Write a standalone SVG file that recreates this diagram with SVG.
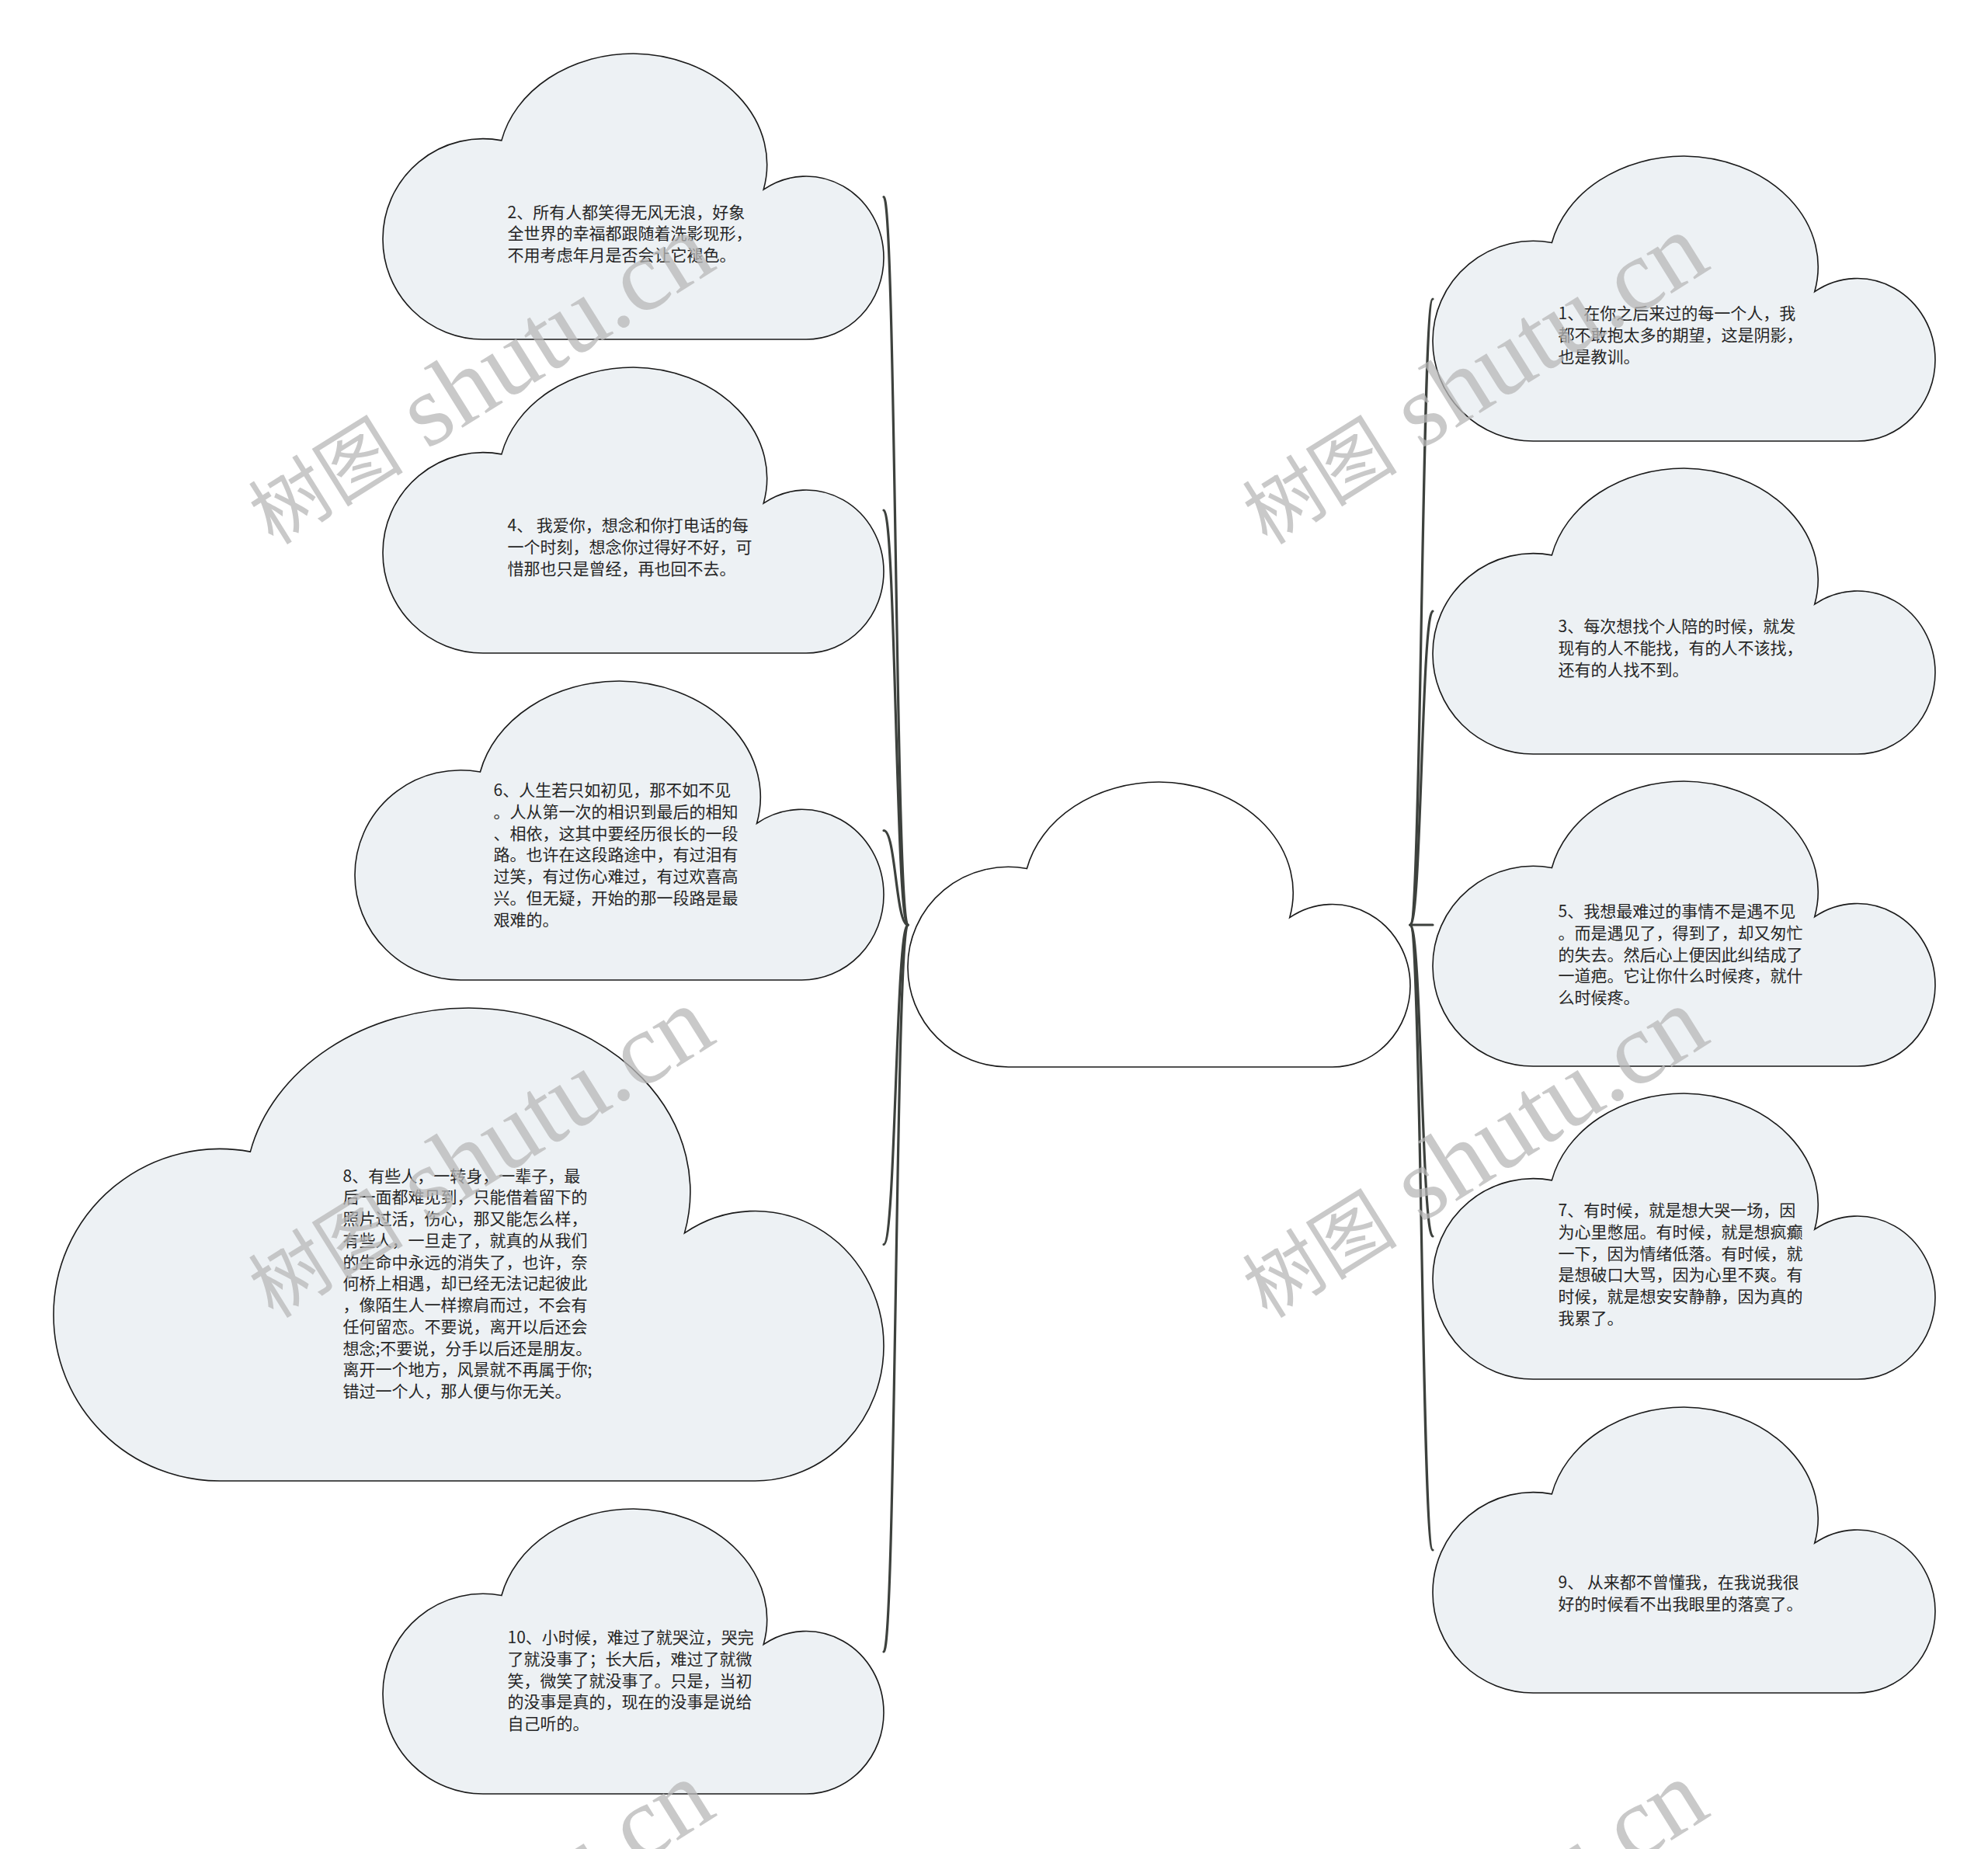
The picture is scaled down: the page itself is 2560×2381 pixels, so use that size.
<svg xmlns="http://www.w3.org/2000/svg" xmlns:xlink="http://www.w3.org/1999/xlink" width="2560" height="2381" viewBox="0 0 2560 2381">
<style>
.cloud{fill:#edf1f4;stroke:#1a1a1a;stroke-width:1.6}
.cloud-main{fill:#ffffff;stroke:#1a1a1a;stroke-width:1.6}
.conn{fill:none;stroke:#3d413d;stroke-width:3.2;stroke-linecap:round}
.txt{font-family:"Noto Sans CJK SC","Noto Sans",sans-serif;font-size:21px;fill:#262626}
.wm{font-family:"Liberation Serif","Noto Sans CJK SC",serif;fill:#b8b8b8;opacity:0.75}
.wm-cjk{font-size:100px}
.wm-lat{font-size:132px}
</style>
<defs>
<path id="cloud" vector-effect="non-scaling-stroke" d="M200,1000 A200,350 0 0 1 0,650 A200,350 0 0 1 237,304 A270,388.5 0 0 1 500,0 A270,388.5 0 0 1 760,476 A155,285 0 0 1 1000,715 A155,285 0 0 1 845,1000 Z"/>
</defs>
<rect x="0" y="0" width="2560" height="2381" fill="#ffffff"/>
<g id="connectors">
<path class="conn" d="M1169,1191 C1153.5,1191 1153.5,253.5 1138,253.5"/>
<path class="conn" d="M1169,1191 C1153.5,1191 1153.5,657 1138,657"/>
<path class="conn" d="M1169,1191 C1153.5,1191 1153.5,1069.5 1138,1069.5"/>
<path class="conn" d="M1169,1191 C1153.5,1191 1153.5,1602.5 1138,1602.5"/>
<path class="conn" d="M1169,1191 C1153.5,1191 1153.5,2127 1138,2127"/>
<path class="conn" d="M1816,1191 C1830.5,1191 1830.5,385 1845,385"/>
<path class="conn" d="M1816,1191 C1830.5,1191 1830.5,787 1845,787"/>
<path class="conn" d="M1816,1191 L1845,1191"/>
<path class="conn" d="M1816,1191 C1830.5,1191 1830.5,1592 1845,1592"/>
<path class="conn" d="M1816,1191 C1830.5,1191 1830.5,1996 1845,1996"/>
</g>
<g id="node-center">
<use href="#cloud" class="cloud-main" transform="translate(1169,1007) scale(0.647,0.367)"/>
</g>
<g id="node-2">
<use href="#cloud" class="cloud" transform="translate(493,69) scale(0.645,0.368)"/>
<text class="txt" x="653.5" y="280.5"><tspan x="653.5">2、所有人都笑得无风无浪，好象</tspan><tspan x="653.5" dy="27.75">全世界的幸福都跟随着洗影现形，</tspan><tspan x="653.5" dy="27.75">不用考虑年月是否会让它褪色。</tspan></text>
</g>
<g id="node-4">
<use href="#cloud" class="cloud" transform="translate(493,473) scale(0.645,0.368)"/>
<text class="txt" x="653.5" y="684"><tspan x="653.5">4、 我爱你，想念和你打电话的每</tspan><tspan x="653.5" dy="27.75">一个时刻，想念你过得好不好，可</tspan><tspan x="653.5" dy="27.75">惜那也只是曾经，再也回不去。</tspan></text>
</g>
<g id="node-6">
<use href="#cloud" class="cloud" transform="translate(457,877) scale(0.681,0.385)"/>
<text class="txt" x="635.5" y="1025"><tspan x="635.5">6、人生若只如初见，那不如不见</tspan><tspan x="635.5" dy="27.75">。人从第一次的相识到最后的相知</tspan><tspan x="635.5" dy="27.75">、相依，这其中要经历很长的一段</tspan><tspan x="635.5" dy="27.75">路。也许在这段路途中，有过泪有</tspan><tspan x="635.5" dy="27.75">过笑，有过伤心难过，有过欢喜高</tspan><tspan x="635.5" dy="27.75">兴。但无疑，开始的那一段路是最</tspan><tspan x="635.5" dy="27.75">艰难的。</tspan></text>
</g>
<g id="node-8">
<use href="#cloud" class="cloud" transform="translate(69,1298) scale(1.069,0.609)"/>
<text class="txt" x="441.5" y="1521.5"><tspan x="441.5">8、有些人，一转身，一辈子，最</tspan><tspan x="441.5" dy="27.75">后一面都难见到，只能借着留下的</tspan><tspan x="441.5" dy="27.75">照片过活，伤心，那又能怎么样，</tspan><tspan x="441.5" dy="27.75">有些人，一旦走了，就真的从我们</tspan><tspan x="441.5" dy="27.75">的生命中永远的消失了，也许，奈</tspan><tspan x="441.5" dy="27.75">何桥上相遇，却已经无法记起彼此</tspan><tspan x="441.5" dy="27.75">，像陌生人一样擦肩而过，不会有</tspan><tspan x="441.5" dy="27.75">任何留恋。不要说，离开以后还会</tspan><tspan x="441.5" dy="27.75">想念;不要说，分手以后还是朋友。</tspan><tspan x="441.5" dy="27.75">离开一个地方，风景就不再属于你;</tspan><tspan x="441.5" dy="27.75">错过一个人，那人便与你无关。</tspan></text>
</g>
<g id="node-10">
<use href="#cloud" class="cloud" transform="translate(493,1943) scale(0.645,0.367)"/>
<text class="txt" x="653.5" y="2116"><tspan x="653.5">10、小时候，难过了就哭泣，哭完</tspan><tspan x="653.5" dy="27.75">了就没事了；长大后，难过了就微</tspan><tspan x="653.5" dy="27.75">笑，微笑了就没事了。只是，当初</tspan><tspan x="653.5" dy="27.75">的没事是真的，现在的没事是说给</tspan><tspan x="653.5" dy="27.75">自己听的。</tspan></text>
</g>
<g id="node-1">
<use href="#cloud" class="cloud" transform="translate(1845,201) scale(0.647,0.367)"/>
<text class="txt" x="2006.5" y="411"><tspan x="2006.5">1、在你之后来过的每一个人，我</tspan><tspan x="2006.5" dy="27.75">都不敢抱太多的期望，这是阴影，</tspan><tspan x="2006.5" dy="27.75">也是教训。</tspan></text>
</g>
<g id="node-3">
<use href="#cloud" class="cloud" transform="translate(1845,603) scale(0.647,0.368)"/>
<text class="txt" x="2006.5" y="814"><tspan x="2006.5">3、每次想找个人陪的时候，就发</tspan><tspan x="2006.5" dy="27.75">现有的人不能找，有的人不该找，</tspan><tspan x="2006.5" dy="27.75">还有的人找不到。</tspan></text>
</g>
<g id="node-5">
<use href="#cloud" class="cloud" transform="translate(1845,1006) scale(0.647,0.367)"/>
<text class="txt" x="2006.5" y="1181"><tspan x="2006.5">5、我想最难过的事情不是遇不见</tspan><tspan x="2006.5" dy="27.75">。而是遇见了，得到了，却又匆忙</tspan><tspan x="2006.5" dy="27.75">的失去。然后心上便因此纠结成了</tspan><tspan x="2006.5" dy="27.75">一道疤。它让你什么时候疼，就什</tspan><tspan x="2006.5" dy="27.75">么时候疼。</tspan></text>
</g>
<g id="node-7">
<use href="#cloud" class="cloud" transform="translate(1845,1408) scale(0.647,0.368)"/>
<text class="txt" x="2006.5" y="1566"><tspan x="2006.5">7、有时候，就是想大哭一场，因</tspan><tspan x="2006.5" dy="27.75">为心里憋屈。有时候，就是想疯癫</tspan><tspan x="2006.5" dy="27.75">一下，因为情绪低落。有时候，就</tspan><tspan x="2006.5" dy="27.75">是想破口大骂，因为心里不爽。有</tspan><tspan x="2006.5" dy="27.75">时候，就是想安安静静，因为真的</tspan><tspan x="2006.5" dy="27.75">我累了。</tspan></text>
</g>
<g id="node-9">
<use href="#cloud" class="cloud" transform="translate(1845,1812) scale(0.647,0.368)"/>
<text class="txt" x="2006.5" y="2045"><tspan x="2006.5">9、 从来都不曾懂我，在我说我很</tspan><tspan x="2006.5" dy="27.75">好的时候看不出我眼里的落寞了。</tspan></text>
</g>
<g id="watermarks">
<text class="wm" transform="translate(352,703) rotate(-32)"><tspan class="wm-cjk">树图</tspan><tspan class="wm-lat"> shutu.cn</tspan></text>
<text class="wm" transform="translate(1632,703) rotate(-32)"><tspan class="wm-cjk">树图</tspan><tspan class="wm-lat"> shutu.cn</tspan></text>
<text class="wm" transform="translate(352,1699) rotate(-32)"><tspan class="wm-cjk">树图</tspan><tspan class="wm-lat"> shutu.cn</tspan></text>
<text class="wm" transform="translate(1632,1699) rotate(-32)"><tspan class="wm-cjk">树图</tspan><tspan class="wm-lat"> shutu.cn</tspan></text>
<text class="wm" transform="translate(352,2695) rotate(-32)"><tspan class="wm-cjk">树图</tspan><tspan class="wm-lat"> shutu.cn</tspan></text>
<text class="wm" transform="translate(1632,2695) rotate(-32)"><tspan class="wm-cjk">树图</tspan><tspan class="wm-lat"> shutu.cn</tspan></text>
</g>
</svg>
